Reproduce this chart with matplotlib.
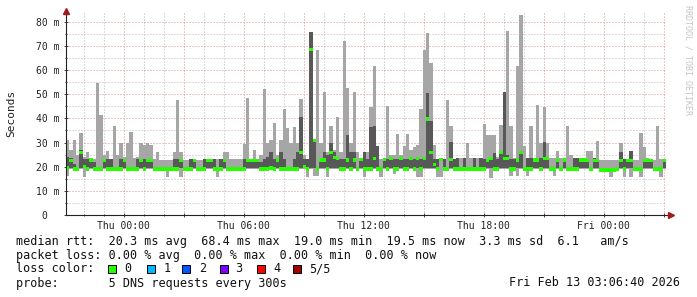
import numpy as np
import matplotlib
matplotlib.use("Agg")
import matplotlib.pyplot as plt
import matplotlib.dates as mdates
from matplotlib.ticker import MultipleLocator, FuncFormatter
from matplotlib.patches import Rectangle
from datetime import datetime, timedelta

plt.rcParams["font.family"] = ["DejaVu Sans Mono"]

# ---------------- data (ms), one value per 10-minute step ----------------
start = datetime(2026, 2, 11, 21, 6, 40)
end = datetime(2026, 2, 13, 3, 6, 40)
step_minutes = 10

rtt_max = [
    31, 27, 31, 25, 34, 24, 26.2, 23, 23, 54.7,
    41.3, 25, 26.5, 23, 36.8, 25, 29.7, 24, 30, 34.5,
    23.5, 24, 30, 29, 30, 29, 23, 26, 22.8, 22.8,
    22.8, 22.8, 26, 47.6, 26, 22.8, 22.8, 22.8, 22.8, 22.8,
    22.8, 22.8, 23, 23, 23, 23, 23, 26, 26, 23,
    23, 23, 23, 29.4, 48.3, 23, 27, 23, 25, 52,
    30, 31, 38, 25, 31, 43.8, 36, 30, 36.5, 30,
    48, 25, 23, 75.8, 31, 68.5, 30, 51, 26, 36.8,
    27, 40.7, 26, 72, 52.4, 30, 51, 26, 23.5, 26,
    26, 44.8, 61.6, 28.5, 23, 23, 45, 25, 25, 33.5,
    25, 28.5, 33.5, 27, 28, 29, 43.8, 68.3, 75.4, 63,
    29, 23, 23, 23, 47.6, 36.8, 23, 23.5, 23.5, 23.5,
    29.7, 23.5, 23.5, 23.5, 23.5, 37.6, 33, 33, 33, 24,
    37.2, 51, 76.2, 37, 23.5, 61.6, 82.7, 28.5, 23.5, 36.8,
    23.5, 45.5, 29.7, 44.8, 29.9, 23.5, 23.5, 26.6, 23.5, 23.5,
    36.8, 24.8, 23.5, 23.5, 23.5, 23, 26.6, 26.5, 23, 30.7,
    22.9, 22.9, 22.9, 22.9, 22.9, 22.9, 29.9, 23, 23, 26.5,
    22.9, 22.9, 34, 28.3, 23.5, 23, 22.9, 36.8, 23, 23,
]

rtt_upper = [  # top of the inner (dark) smoke band, 0 = none
    24, 23.5, 21, 0, 27, 23, 23, 23, 22, 0,
    0, 23, 23, 23, 0, 0, 23, 23, 0, 0,
    0, 23, 23, 23, 23, 23, 0, 0, 0, 0,
    0, 0, 23, 23, 23, 0, 0, 23, 23, 0,
    0, 23, 23, 23, 23, 0, 23, 23, 0, 0,
    0, 0, 0, 23, 23, 23, 23, 23, 22, 23,
    24, 26, 23, 23, 26, 23, 0, 0, 23, 26,
    40.7, 23, 23, 75.8, 31, 0, 23, 26, 25, 29.6,
    26, 23.5, 23, 23, 33, 26, 26, 0, 23, 26,
    23, 36.5, 36.8, 28.5, 0, 23, 23, 23, 23, 23,
    23, 23, 23, 23, 23, 23, 23, 23, 50.6, 39,
    23, 23, 0, 23, 0, 30.3, 23, 23.5, 0, 23.5,
    0, 0, 23.5, 0, 23.5, 23, 23, 23.4, 25.8, 23,
    25.8, 51, 25, 23, 23, 23, 25.8, 0, 23.5, 23.5,
    23.5, 23.5, 23.5, 30.3, 23.4, 0, 0, 23.5, 0, 23.5,
    0, 0, 23.5, 23.5, 23.5, 23.5, 23, 0, 23.4, 23,
    0, 0, 0, 0, 0, 0, 26.2, 23, 23, 26.5,
    0, 0, 0, 23, 23, 23, 0, 0, 0, 23,
]

rtt_median = [
    19.5, 22.5, 19, 19, 26, 20, 19, 22.8, 19, 19,
    19, 22.5, 19, 19, 19, 19, 19, 22.5, 19, 19,
    19, 19, 22.5, 19, 22.5, 22.5, 19, 19, 19, 19,
    19, 19, 19, 19, 22.5, 19, 19, 19, 22.5, 19,
    19, 19, 22.5, 22.5, 19, 19, 19, 22.5, 19, 19,
    19, 19, 19, 19, 22.5, 22.5, 22.5, 22.5, 19, 19,
    19, 19.5, 19, 22.8, 19, 19, 19, 19, 19, 19,
    26, 20, 19, 68.5, 30.8, 19, 22.8, 22.8, 19, 26,
    23.7, 23.5, 19, 19, 22.8, 19, 22.8, 19, 23, 19,
    19, 19, 23.5, 19, 19, 23, 19, 23.5, 19, 19,
    23.5, 19, 19, 23.5, 19, 23.5, 19, 23.5, 39.7, 26,
    20.8, 19, 23, 19, 19, 23, 19, 19, 19, 19,
    19, 19, 19, 19, 19, 19, 22.5, 23.4, 19, 19,
    25.8, 23.4, 23.4, 19, 19, 22.8, 25.8, 19, 19, 19,
    22.8, 22.8, 19, 23.4, 23.4, 19, 19, 22.8, 19, 22.8,
    19, 19, 19, 19, 22.8, 22.8, 22.5, 19, 22.5, 22.5,
    18.6, 18.6, 18.6, 18.6, 18.6, 19, 22.5, 19, 22.5, 22.5,
    19, 19, 19, 22.5, 22.5, 22.5, 19, 19, 19, 22.5,
]

rtt_min = [
    16, 19, 19, 19, 19, 15.7, 19, 19, 19, 19,
    19, 19, 19, 19, 19, 19, 19, 19, 19, 19,
    19, 19, 19, 19, 19, 19, 19, 19, 19, 19,
    15.7, 19, 19, 19, 15.7, 19, 19, 19, 19, 19,
    19, 19, 19, 19, 19, 15.7, 19, 19, 19, 19,
    19, 19, 19, 19, 19, 19, 19, 19, 19, 19,
    19, 19, 19, 19, 19, 19, 19, 19, 19, 19,
    19, 19, 15.9, 19, 16, 16, 19, 19, 15.9, 19,
    19, 19, 19, 19, 19, 19, 19, 19, 19, 15.9,
    19, 19, 19, 19, 15.9, 19, 19, 19, 17, 19,
    19, 19, 19, 19, 19, 15.9, 15.9, 19, 19, 19,
    19, 15.9, 15.9, 19, 19, 19, 19, 19, 19, 19,
    19, 19, 19, 19, 19, 19, 19, 15.3, 19, 19,
    19, 19, 19, 16, 19, 16, 19, 19, 16, 19,
    19, 19, 19, 19, 19, 19, 16, 19, 19, 19,
    19, 19, 19, 19, 19, 19, 19, 19, 19, 19,
    18.5, 18.5, 18.5, 15.6, 18.5, 19, 19, 15.6, 19, 15.6,
    19, 19, 15.6, 19, 19, 19, 19, 19, 15.6, 19,
]
dark_floor = 19.3

y_ticks_major = 10
y_ticks_minor = 5
y_top = 83.5

legend_lines = [
    "median rtt:  20.3 ms avg  68.4 ms max  19.0 ms min  19.5 ms now  3.3 ms sd  6.1   am/s",
    "packet loss: 0.00 % avg  0.00 % max  0.00 % min  0.00 % now",
]
loss_labels = ["0", "1", "2", "3", "4", "5/5"]
loss_colors = ["#26ff00", "#00b8ff", "#0059ff", "#7e00ff", "#ff0000", "#a10000"]
probe_line = "probe:       5 DNS requests every 300s"
stamp_text = "Fri Feb 13 03:06:40 2026"

# ---------------- figure ----------------
W, H = 697, 297
fig = plt.figure(figsize=(W / 100, H / 100), dpi=100)
fig.patch.set_facecolor("white")
ax_left, ax_right, ax_bottom, ax_top = 66, 666, 215, 13.3
ax = fig.add_axes([ax_left / W, 1 - ax_bottom / H, (ax_right - ax_left) / W, (ax_bottom - ax_top) / H])
ax.set_facecolor("white")

n = len(rtt_max)
times = [start + timedelta(minutes=step_minutes * i) for i in range(n + 1)]
tn = mdates.date2num(times)


def ext(a):
    a = np.asarray(a, dtype=float)
    return np.append(a, a[-1])


hi = ext(rtt_max)
lo = ext(rtt_min)
md = ext(rtt_median)
up = ext(rtt_upper)
up = np.where(up > dark_floor, up, dark_floor)

ax.fill_between(tn, lo, hi, step="post", color="#a6a6a6", lw=0, zorder=2)
ax.fill_between(tn, dark_floor, up, step="post", color="#585858", lw=0, zorder=3)
half = 0.7
ax.fill_between(tn, md - half, md + half, step="post", color=loss_colors[0], lw=0, zorder=4)

ax.set_xlim(mdates.date2num(start), mdates.date2num(end))
ax.set_ylim(0, y_top)

ax.xaxis.set_major_locator(mdates.HourLocator(byhour=range(0, 24, 3)))
ax.xaxis.set_minor_locator(mdates.HourLocator())


def xfmt(x, pos):
    d = mdates.num2date(x)
    return d.strftime("%a %H:%M") if d.hour % 6 == 0 else ""


ax.xaxis.set_major_formatter(FuncFormatter(xfmt))
ax.yaxis.set_major_locator(MultipleLocator(y_ticks_major))
ax.yaxis.set_minor_locator(MultipleLocator(y_ticks_minor))
ax.yaxis.set_major_formatter(FuncFormatter(lambda v, p: "0  " if v == 0 else f"{v:.0f} m"))

ax.grid(which="major", color="#e08a8a", linestyle=(0, (1, 2)), lw=0.72)
ax.grid(which="minor", color="#b8b8b8", linestyle=(0, (1, 2)), lw=0.72)
ax.set_axisbelow(True)

for s in ["top", "right"]:
    ax.spines[s].set_visible(False)
for s in ["left", "bottom"]:
    ax.spines[s].set_color("#222222")
    ax.spines[s].set_linewidth(0.8)
    ax.spines[s].set_zorder(6)

ax.tick_params(which="both", direction="inout", color="#444444", width=0.7)
ax.tick_params(which="major", length=3)
ax.tick_params(which="minor", length=2)
ax.tick_params(axis="x", which="major", pad=2.5, labelsize=7.05)
ax.tick_params(axis="y", which="major", pad=3.0, labelsize=7.05)
for lab in ax.get_xticklabels() + ax.get_yticklabels():
    lab.set_fontfamily("DejaVu Sans Mono")
    lab.set_color("#222222")

# axis extensions with arrows
arrow_col = "#9b1c1c"
ax.plot([1, 1.004], [0, 0], transform=ax.transAxes, clip_on=False, color="#222222", lw=0.8, zorder=6)
ax.plot([1.0075], [0], transform=ax.transAxes, clip_on=False, marker=">", ms=4, color=arrow_col, mec=arrow_col, zorder=7)
ax.plot([0, 0], [1, 1.01], transform=ax.transAxes, clip_on=False, color="#222222", lw=0.8, zorder=6)
ax.plot([0], [1.0115], transform=ax.transAxes, clip_on=False, marker="^", ms=4, color=arrow_col, mec=arrow_col, zorder=7)

# y label
fig.text(11 / W, 1 - 113.5 / H, "Seconds", rotation=90, ha="center", va="center", fontsize=8, color="#222222")
# watermark
fig.text(688 / W, 1 - 5 / H, "RRDTOOL / TOBI OETIKER", rotation=270, ha="center", va="top",
         fontsize=6, color="#c4c4c4")

# legend
row_y = [241, 255, 269, 283]
fs = 8.5
tcol = "#111111"
for r, line in enumerate(legend_lines):
    fig.text(16 / W, 1 - row_y[r] / H, line, ha="left", va="center", fontsize=fs, color=tcol)

fig.text(16 / W, 1 - row_y[2] / H, "loss color:", ha="left", va="center", fontsize=fs, color=tcol)
sq_x = [108, 147, 182, 220, 257, 293]
lab_x = [124.5, 163.5, 199, 235.6, 273, 309]
for sx, lx, lab, col in zip(sq_x, lab_x, loss_labels, loss_colors):
    fig.patches.append(Rectangle((sx / W, 1 - (row_y[2] + 4) / H), 8 / W, 8 / H, transform=fig.transFigure,
                                 facecolor=col, edgecolor="black", lw=0.7))
    fig.text(lx / W, 1 - row_y[2] / H, lab, ha="left", va="center", fontsize=fs, color=tcol)

fig.text(16 / W, 1 - row_y[3] / H, probe_line, ha="left", va="center", fontsize=fs, color=tcol)
fig.text(680 / W, 1 - row_y[3] / H, stamp_text, ha="right", va="center", fontsize=fs, color=tcol)

fig.savefig("out.png", dpi=100, facecolor="white")
